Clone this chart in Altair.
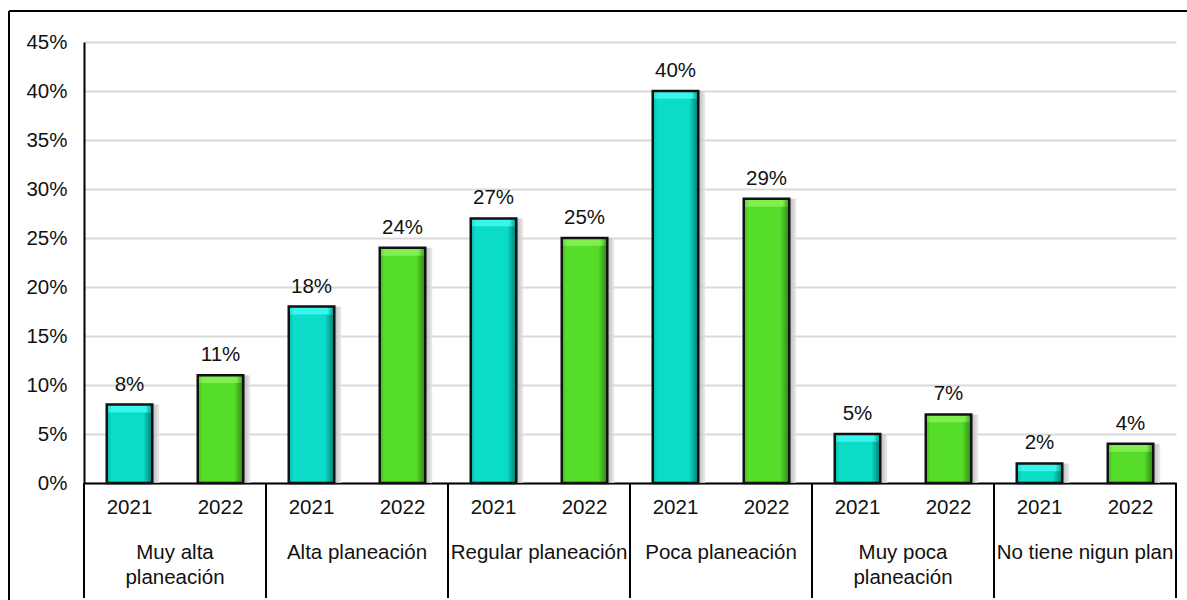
import altair as alt
import pandas as pd

groups = ["Muy alta planeación", "Alta planeación", "Regular planeación",
          "Poca planeación", "Muy poca planeación", "No tiene nigun plan"]
group_labels = ["Muy alta\nplaneación", "Alta planeación", "Regular planeación",
                "Poca planeación", "Muy poca\nplaneación", "No tiene nigun plan"]
years = ["2021", "2022"]
v2021 = [8, 18, 27, 40, 5, 2]
v2022 = [11, 24, 25, 29, 7, 4]
y_ticks = [0, 0.05, 0.10, 0.15, 0.20, 0.25, 0.30, 0.35, 0.40, 0.45]

rows = []
for i, g in enumerate(groups):
    for y, vals in zip(years, [v2021, v2022]):
        rows.append({"key": f"{i}|{y}", "group": g, "glabel": group_labels[i],
                     "year": y, "value": vals[i] / 100.0, "label": f"{vals[i]}%"})
df = pd.DataFrame(rows)
key_order = list(df["key"])

FONT = "Liberation Sans"
FS = 20.5
TXT = "#111111"
W, H = 1092, 441


def X(bp=None):
    kw = dict(sort=key_order,
              scale=alt.Scale(domain=key_order, paddingInner=0, paddingOuter=0),
              axis=alt.Axis(labels=False, ticks=False, title=None, grid=False,
                            domainColor="#000", domainWidth=2))
    if bp is not None:
        kw["bandPosition"] = bp
    return alt.X("key:N", **kw)


Y = alt.Y("value:Q", scale=alt.Scale(domain=[0, 0.45], nice=False),
          axis=alt.Axis(values=y_ticks, format=".0%", title=None, ticks=False,
                        labelFontSize=FS, labelFont=FONT, labelColor=TXT,
                        labelPadding=17, domainColor="#000", domainWidth=2,
                        gridColor="#D9D9D9", gridWidth=2))


def grad(stops):
    return alt.LinearGradient(gradient="linear", x1=0, x2=1, y1=0, y2=0,
                              stops=[alt.GradientStop(color=c, offset=o) for o, c in stops])


base = alt.Chart(df)
half = alt.RelativeBandSize(0.5)

shadow = base.mark_bar(width=half, xOffset=7,
                       fill=grad([(0, "#707070"), (0.75, "#808080"), (1, "#e8e8e8")]),
                       opacity=0.8).encode(x=X(), y=Y)

cyan = base.transform_filter("datum.year == '2021'").mark_bar(
    width=half, fill=grad([(0, "#07B5A6"), (0.1, "#0ADCC8"), (0.8, "#0ADCC8"), (1, "#057A70")])
).encode(x=X(), y=Y)
green = base.transform_filter("datum.year == '2022'").mark_bar(
    width=half, fill=grad([(0, "#45B522"), (0.1, "#55DD2A"), (0.8, "#55DD2A"), (1, "#2D8612")])
).encode(x=X(), y=Y)

top_c = base.transform_filter("datum.year == '2021'").transform_calculate(
    lo="datum.value - 0.008").mark_bar(
    width=half, fill=grad([(0, "#22D8CA"), (0.12, "#38F6EC"), (0.85, "#38F6EC"), (1, "#079085")])
).encode(x=X(), y=Y, y2="lo:Q")
top_g = base.transform_filter("datum.year == '2022'").transform_calculate(
    lo="datum.value - 0.008").mark_bar(
    width=half, fill=grad([(0, "#5CD530"), (0.12, "#80F050"), (0.85, "#80F050"), (1, "#359818")])
).encode(x=X(), y=Y, y2="lo:Q")

outline = base.mark_bar(width=half, fillOpacity=0, stroke="#111", strokeWidth=2.5).encode(x=X(), y=Y)

values = base.mark_text(font=FONT, fontSize=FS, color=TXT, baseline="alphabetic",
                        dy=-14).encode(x=X(), y=Y, text="label:N")

year_txt = base.mark_text(font=FONT, fontSize=FS, color=TXT, baseline="middle").encode(
    x=X(), y=alt.value(466), text="year:N")

grp_txt = base.transform_filter("datum.year == '2022'").mark_text(
    font=FONT, fontSize=FS, color=TXT, baseline="top", lineBreak="\n", lineHeight=25
).encode(x=X(0), y=alt.value(501), text="glabel:N")

sep_left = base.transform_filter("datum.year == '2021'").mark_rule(
    color="#000", strokeWidth=2).encode(x=X(0), y=alt.value(441), y2=alt.value(556))
sep_right = base.transform_filter("datum.key == '5|2022'").mark_rule(
    color="#000", strokeWidth=2).encode(x=X(1), y=alt.value(441), y2=alt.value(556))

frame_top = base.transform_filter("datum.key == '0|2021'").mark_rule(
    color="#000", strokeWidth=2).encode(x=alt.value(-75), x2=alt.value(1120), y=alt.value(-31))
frame_left = base.transform_filter("datum.key == '0|2021'").mark_rule(
    color="#000", strokeWidth=2).encode(x=alt.value(-75), y=alt.value(-31), y2=alt.value(580))

chart = alt.layer(
    shadow, cyan, green, top_c, top_g, outline, values, year_txt, grp_txt,
    sep_left, sep_right, frame_top, frame_left
).properties(
    width=W, height=H,
    autosize=alt.AutoSizeParams(type="none"),
    padding={"left": 84, "top": 42, "right": 11, "bottom": 117},
    background="white",
).configure_view(stroke=None)

chart.save("out.html", embed_options={"renderer": "svg", "actions": False})
